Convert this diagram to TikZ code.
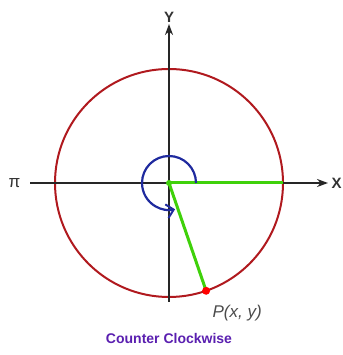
\documentclass[tikz,border=0pt]{standalone}
\usepackage{fontspec}
\setmainfont{Liberation Sans}
\usepackage{tikz}
\usetikzlibrary{arrows.meta,positioning,calc}

\definecolor{circred}{HTML}{B0191E}
\definecolor{radgreen}{HTML}{3FD10A}
\definecolor{arcblue}{HTML}{1F2A9E}
\definecolor{titlepurple}{HTML}{5A1FB0}

\begin{document}
\begin{tikzpicture}[x=1pt,y=1pt,
  axis/.style={line width=2pt,black!85,-{Stealth[length=11pt,width=8pt]}},
  radius line/.style={line width=3pt,radgreen},
  axlabel/.style={font=\bfseries\fontsize{15}{17}\selectfont,black!80}]
\useasboundingbox (0,0) rectangle (342,355);

\coordinate (O) at (169,172);
\coordinate (xl) at (30,172);
\coordinate (xr) at (328,172);
\coordinate (yb) at (169,53);
\coordinate (yt) at (169,331);
\coordinate (E) at (283,172);
\coordinate (P) at ($(O)+(-71:114)$);

% circle
\draw[circred,line width=2pt] (O) circle[radius=114];

% axes
\draw[axis] (xl) -- (xr);
\draw[axis] (yb) -- (yt);
\node[axlabel,right=0pt of xr] (xlab) {X};
\node[axlabel,above=-2pt of yt] (ylab) {Y};
\node[left=6pt of xl,font=\fontsize{17}{19}\selectfont,black!80] (pilab) {π};

% radius lines
\draw[radius line] (O) -- (E);
\draw[radius line] (O) -- (P);
\fill[radgreen] (O) circle[radius=3];
\fill[red] (P) circle[radius=4];
\node[below right=11pt and 3pt of P,font=\itshape\fontsize{17}{19}\selectfont,black!70] (plab) {P(x, y)};

% angle
\draw[arcblue,line width=2.2pt,-{Straight Barb[length=7pt,width=14pt,line width=2pt]}]
  ($(O)+(27,0)$) arc[start angle=0,end angle=283,radius=27];

\node[font=\bfseries\fontsize{14}{16}\selectfont,titlepurple] (title) at (169,17) {Counter Clockwise};
\end{tikzpicture}
\end{document}
